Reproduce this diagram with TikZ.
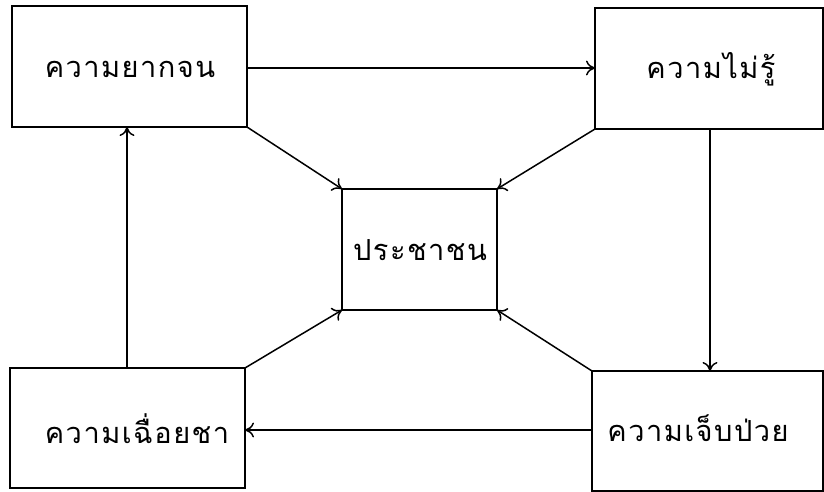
\documentclass[tikz,border=0pt]{standalone}
\usepackage{fontspec}
\newfontfamily\thaifont[Script=Thai,LetterSpace=5]{Loma}
\usetikzlibrary{arrows.meta}
\begin{document}
\begin{tikzpicture}[x=1pt,y=-1pt,
  box/.style={draw,line width=1.8pt},
  lbl/.style={font=\thaifont\fontsize{29}{32}\selectfont,inner sep=0pt},
  arr/.style={line width=1.5pt,-{To[length=9pt,width=15pt]}}]
\useasboundingbox (0,0) rectangle (824,492);
% boxes
\draw[box] (12,6) rectangle (247,127);
\draw[box] (595,8) rectangle (823,129);
\draw[box] (342,189) rectangle (497,310);
\draw[box] (10,368) rectangle (245,488);
\draw[box] (592,371) rectangle (823,491);
% labels
\node[lbl] (poor) at (130,69) {ความยากจน};
\node[lbl] (ignor) at (711,69) {ความไม่รู้};
\node[lbl] (people) at (420,250) {ประชาชน};
\node[lbl] (lazy) at (137,429) {ความเฉื่อยชา};
\node[lbl] (sick) at (698,428) {ความเจ็บป่วย};
% connectors
\coordinate (a1) at (247,68); \coordinate (a2) at (595,68);
\draw[arr] (a1) -- (a2);
\coordinate (b1) at (710,129); \coordinate (b2) at (710,371);
\draw[arr] (b1) -- (b2);
\coordinate (c1) at (592,430); \coordinate (c2) at (245,430);
\draw[arr] (c1) -- (c2);
\coordinate (d1) at (127,368); \coordinate (d2) at (127,127);
\draw[arr] (d1) -- (d2);
\coordinate (p1) at (342,189); \coordinate (p2) at (497,189);
\coordinate (p3) at (342,310); \coordinate (p4) at (497,310);
\coordinate (q1) at (247,127); \coordinate (q2) at (595,129);
\coordinate (q3) at (245,368); \coordinate (q4) at (592,371);
\draw[arr] (q1) -- (p1);
\draw[arr] (q2) -- (p2);
\draw[arr] (q3) -- (p3);
\draw[arr] (q4) -- (p4);
\end{tikzpicture}
\end{document}
